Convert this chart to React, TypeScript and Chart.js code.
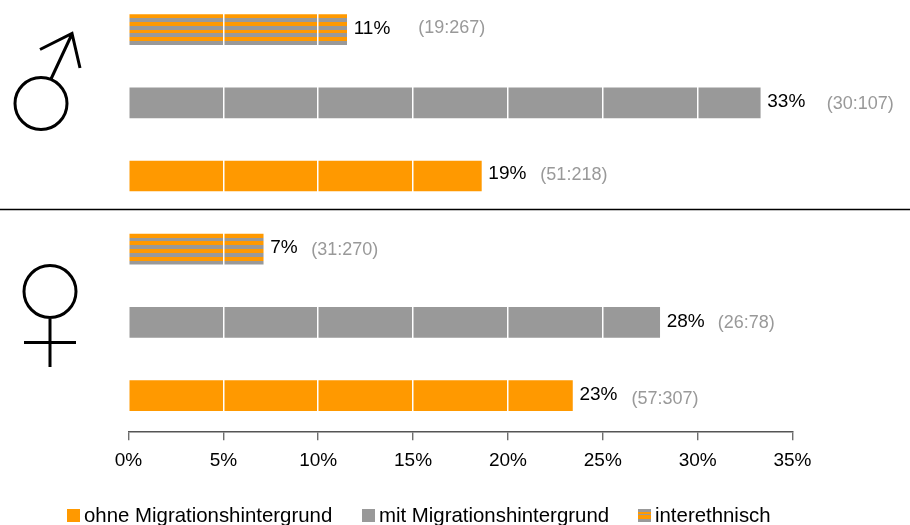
import React, { useEffect, useRef } from "react";
import { Chart, registerables } from "chart.js";

Chart.register(...registerables);

const ORANGE = "#FF9900";
const GREY = "#999999";
const FONT = '"Liberation Sans", Arial, sans-serif';

const categories = ["m inter", "m mit", "m ohne", "w inter", "w mit", "w ohne"];
const interethnisch = [11.5, null, null, 7.1, null, null];
const mitMigration = [null, 33.3, null, null, 28.0, null];
const ohneMigration = [null, null, 18.6, null, null, 23.4];
const percentLabels = ["11%", "33%", "19%", "7%", "28%", "23%"];
const ratioLabels = ["(19:267)", "(30:107)", "(51:218)", "(31:270)", "(26:78)", "(57:307)"];
const legendLabels = ["ohne Migrationshintergrund", "mit Migrationshintergrund", "interethnisch"];
const axisMax = 35;
const axisStep = 5;

// small hand-placed label nudges, in pixels, one per bar
const percentDy = [-1, -1, -2, -1, -1, -1];
const ratioDx = [71.5, 66.5, 59, 48, 58, 59];
const ratioDy = [-2, 1, -1, 1, 1, 3];

const stripes = (ctx: any) => {
  const chart = ctx.chart;
  const y = chart.scales?.y;
  if (!y || ctx.dataIndex === undefined) return GREY;
  const c = y.getPixelForValue(ctx.dataIndex);
  if (!Number.isFinite(c)) return GREY;
  const h = 31;
  const g = chart.ctx.createLinearGradient(0, c - h / 2, 0, c + h / 2);
  const n = 8;
  for (let i = 0; i < n; i++) {
    const col = i % 2 === 0 ? ORANGE : GREY;
    g.addColorStop(i / n, col);
    g.addColorStop((i + 1) / n, col);
  }
  return g;
};

const overlay = {
  id: "overlay",
  afterDraw(chart: any) {
    const { ctx, scales } = chart;
    const x = scales.x;
    const y = scales.y;
    const values = categories.map((_, i) => interethnisch[i] ?? mitMigration[i] ?? ohneMigration[i] ?? 0);
    ctx.save();
    ctx.textBaseline = "middle";
    ctx.textAlign = "left";
    values.forEach((v, i) => {
      const px = x.getPixelForValue(v);
      const py = y.getPixelForValue(i);
      ctx.font = `19px ${FONT}`;
      ctx.fillStyle = "#000000";
      ctx.fillText(percentLabels[i], px + 7, py + percentDy[i]);
      ctx.font = `18px ${FONT}`;
      ctx.fillStyle = GREY;
      ctx.fillText(ratioLabels[i], px + ratioDx[i], py + ratioDy[i]);
    });

    // separator and gender symbols (canvas sits 7px above the page)
    ctx.translate(0, 7);
    ctx.strokeStyle = "#000000";
    ctx.lineWidth = 1.5;
    ctx.beginPath();
    ctx.moveTo(0, 209.5);
    ctx.lineTo(910, 209.5);
    ctx.stroke();

    ctx.lineWidth = 3;
    ctx.beginPath();
    ctx.arc(41, 103.5, 26, 0, Math.PI * 2);
    ctx.moveTo(51, 79);
    ctx.lineTo(72, 34);
    ctx.moveTo(40, 49.5);
    ctx.lineTo(72, 33.5);
    ctx.lineTo(80, 68);
    ctx.stroke();

    ctx.beginPath();
    ctx.arc(50, 291.5, 26, 0, Math.PI * 2);
    ctx.moveTo(50, 318);
    ctx.lineTo(50, 367);
    ctx.moveTo(24, 342.5);
    ctx.lineTo(76, 342.5);
    ctx.stroke();
    ctx.restore();
  },
};

const swatchStyles: React.CSSProperties[] = [
  { background: ORANGE },
  { background: GREY },
  {
    background: `linear-gradient(${GREY} 0 3px, ${ORANGE} 3px 5px, ${GREY} 5px 6px, ${ORANGE} 6px 10px, ${GREY} 10px 13px)`,
  },
];
const legendLeft = [67, 362, 638];

export default function App() {
  const ref = useRef<HTMLCanvasElement>(null);
  useEffect(() => {
    const chart = new Chart(ref.current!, {
      type: "bar",
      data: {
        labels: categories,
        datasets: [
          { label: legendLabels[2], data: interethnisch, backgroundColor: stripes, grouped: false, barThickness: 30 },
          { label: legendLabels[1], data: mitMigration, backgroundColor: GREY, grouped: false, barThickness: 30 },
          { label: legendLabels[0], data: ohneMigration, backgroundColor: ORANGE, grouped: false, barThickness: 30 },
        ] as any,
      },
      options: {
        indexAxis: "y",
        responsive: false,
        animation: false,
        layout: { padding: { left: 128.5, right: 117.5, top: 0, bottom: 44 } },
        plugins: { legend: { display: false }, tooltip: { enabled: false } },
        scales: {
          y: { display: false, grid: { display: false } },
          x: {
            min: 0,
            max: axisMax,
            border: { color: "#555555", width: 1.5, z: 2 },
            grid: { color: "#FFFFFF", lineWidth: 1.5, z: 1, tickColor: "#555555", tickLength: 8, tickWidth: 1.2 },
            ticks: {
              stepSize: axisStep,
              color: "#000000",
              font: { family: FONT, size: 19 },
              maxRotation: 0,
              autoSkip: false,
              padding: 9,
              callback: (v: any) => `${v}%`,
            },
          },
        },
      },
      plugins: [overlay],
    } as any);
    return () => chart.destroy();
  }, []);

  return (
    <div style={{ position: "fixed", left: 0, top: 0, width: 910, height: 525, overflow: "hidden", background: "#fff" }}>
      <canvas ref={ref} width={910} height={532} style={{ position: "absolute", left: 0, top: -7, width: 910, height: 532 }} />
      {legendLabels.map((label, i) => (
        <div
          key={label}
          style={{
            position: "absolute",
            left: legendLeft[i],
            top: 504,
            height: 21,
            font: `20.4px/23px ${FONT}`,
            color: "#000",
            whiteSpace: "nowrap",
          }}
        >
          <span style={{ position: "absolute", left: 0, top: 5, width: 13, height: 13, ...swatchStyles[i] }} />
          <span style={{ marginLeft: 17 }}>{label}</span>
        </div>
      ))}
    </div>
  );
}
